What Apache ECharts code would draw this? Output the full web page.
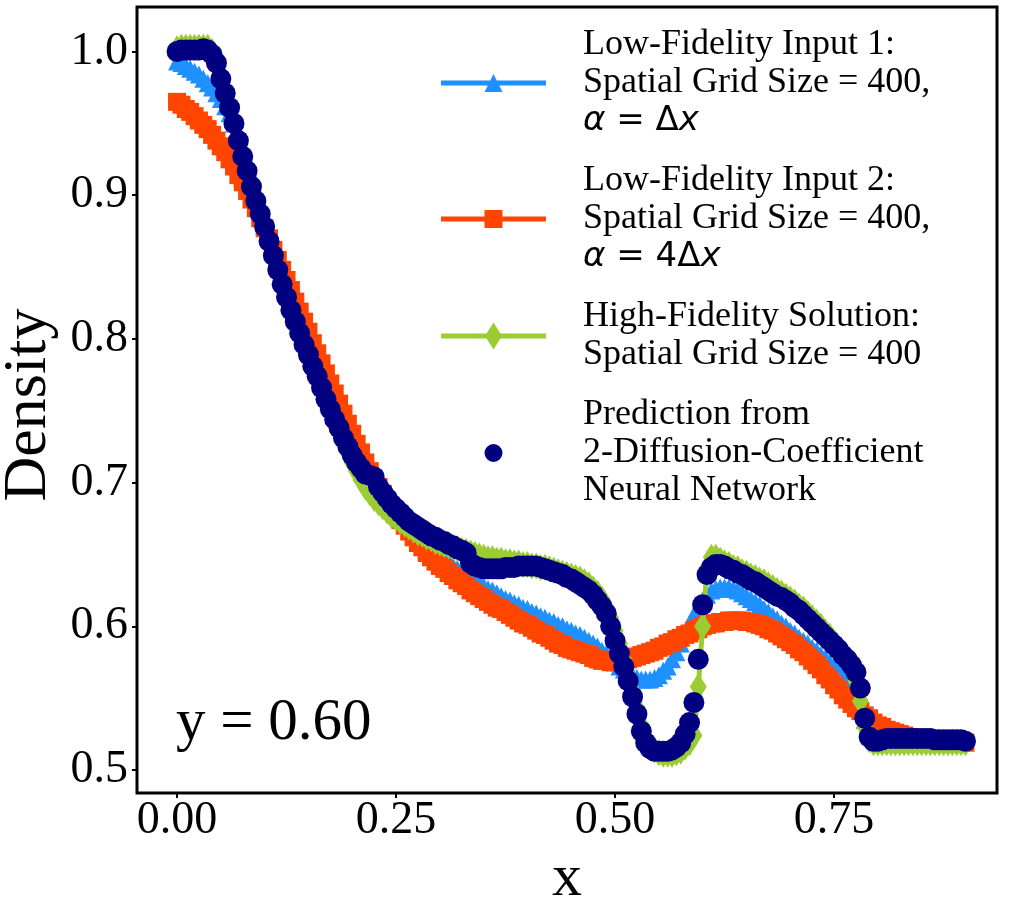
<!DOCTYPE html>
<html>
<head>
<meta charset="utf-8">
<script src="https://cdn.jsdelivr.net/npm/echarts@6/dist/echarts.min.js"></script>
<style>
  html, body { margin: 0; padding: 0; background: #fff; }
  #chart { width: 1017px; height: 913px; }
</style>
</head>
<body>
<div id="chart"></div>
<script>
// x grid: uniform step 0.005 on [0, 0.9]
const xGrid = Array.from({length: 181}, (_, i) => +(i * 0.005).toFixed(3));

// Low-Fidelity Input 1 (alpha = dx)
const lowFid1 = [
  0.993,0.992,0.990,0.988,0.986,0.984,0.981,0.978,0.975,0.971,
  0.967,0.962,0.957,0.950,0.943,0.934,0.924,0.914,0.904,0.894,
  0.884,0.874,0.864,0.855,0.846,0.837,0.829,0.821,0.813,0.805,
  0.798,0.790,0.783,0.775,0.768,0.760,0.753,0.746,0.739,0.731,
  0.723,0.717,0.711,0.706,0.701,0.697,0.693,0.689,0.686,0.683,
  0.680,0.677,0.674,0.671,0.668,0.665,0.663,0.660,0.656,0.653,
  0.650,0.647,0.645,0.642,0.640,0.638,0.636,0.634,0.632,0.630,
  0.628,0.626,0.625,0.623,0.621,0.619,0.618,0.616,0.615,0.613,
  0.612,0.610,0.609,0.607,0.606,0.604,0.603,0.601,0.600,0.598,
  0.597,0.595,0.594,0.592,0.590,0.588,0.586,0.583,0.581,0.578,
  0.575,0.572,0.570,0.568,0.566,0.564,0.563,0.563,0.563,0.564,
  0.566,0.569,0.572,0.577,0.582,0.588,0.595,0.602,0.608,0.613,
  0.618,0.622,0.625,0.626,0.627,0.627,0.627,0.626,0.625,0.623,
  0.621,0.619,0.617,0.615,0.612,0.610,0.607,0.605,0.602,0.600,
  0.597,0.595,0.592,0.590,0.588,0.585,0.583,0.580,0.578,0.575,
  0.572,0.569,0.566,0.562,0.557,0.550,0.543,0.535,0.528,0.524,
  0.522,0.521,0.521,0.520,0.520,0.520,0.520,0.520,0.520,0.520,
  0.520,0.520,0.520,0.520,0.520,0.520,0.520,0.520,0.520,0.520,
  0.520
];

// Low-Fidelity Input 2 (alpha = 4dx)
const lowFid2 = [
  0.965,0.963,0.960,0.958,0.955,0.952,0.949,0.946,0.942,0.938,
  0.934,0.930,0.925,0.920,0.914,0.909,0.903,0.897,0.891,0.884,
  0.877,0.870,0.862,0.855,0.848,0.841,0.834,0.826,0.819,0.812,
  0.805,0.797,0.790,0.783,0.776,0.769,0.762,0.755,0.748,0.741,
  0.734,0.727,0.721,0.714,0.708,0.702,0.697,0.692,0.687,0.682,
  0.678,0.674,0.670,0.666,0.662,0.658,0.655,0.651,0.648,0.645,
  0.642,0.640,0.637,0.635,0.632,0.630,0.628,0.625,0.623,0.621,
  0.619,0.617,0.615,0.613,0.612,0.610,0.608,0.606,0.604,0.602,
  0.601,0.599,0.597,0.595,0.594,0.592,0.590,0.588,0.587,0.585,
  0.584,0.583,0.582,0.581,0.580,0.578,0.577,0.576,0.576,0.575,
  0.575,0.575,0.576,0.577,0.578,0.579,0.580,0.581,0.582,0.583,
  0.585,0.586,0.588,0.589,0.591,0.592,0.594,0.595,0.597,0.598,
  0.600,0.601,0.602,0.602,0.603,0.603,0.604,0.604,0.604,0.604,
  0.603,0.603,0.602,0.601,0.600,0.598,0.597,0.595,0.593,0.591,
  0.589,0.587,0.584,0.582,0.579,0.576,0.573,0.570,0.566,0.563,
  0.559,0.556,0.552,0.549,0.546,0.543,0.541,0.538,0.536,0.533,
  0.531,0.530,0.528,0.527,0.526,0.525,0.524,0.523,0.522,0.521,
  0.521,0.520,0.520,0.520,0.520,0.519,0.519,0.519,0.519,0.519,
  0.519
];

// High-Fidelity Solution
const highFid = [
  1.002,1.003,1.003,1.003,1.003,1.003,1.003,1.003,1.000,0.993,
  0.984,0.973,0.962,0.951,0.940,0.929,0.918,0.907,0.897,0.887,
  0.878,0.868,0.859,0.849,0.840,0.831,0.823,0.814,0.806,0.798,
  0.790,0.782,0.774,0.766,0.759,0.751,0.744,0.736,0.729,0.721,
  0.714,0.708,0.702,0.697,0.693,0.689,0.686,0.683,0.680,0.677,
  0.675,0.673,0.671,0.669,0.667,0.665,0.664,0.662,0.661,0.659,
  0.658,0.657,0.656,0.655,0.654,0.653,0.652,0.651,0.650,0.649,
  0.648,0.647,0.647,0.646,0.646,0.645,0.645,0.644,0.644,0.643,
  0.643,0.642,0.642,0.641,0.641,0.640,0.639,0.638,0.637,0.636,
  0.635,0.634,0.633,0.631,0.629,0.626,0.623,0.619,0.613,0.606,
  0.597,0.588,0.577,0.566,0.555,0.543,0.531,0.522,0.517,0.514,
  0.512,0.511,0.511,0.511,0.512,0.513,0.516,0.519,0.524,0.558,
  0.600,0.640,0.648,0.648,0.646,0.644,0.643,0.641,0.640,0.638,
  0.637,0.635,0.634,0.632,0.631,0.629,0.627,0.625,0.623,0.621,
  0.619,0.617,0.614,0.612,0.609,0.606,0.603,0.600,0.596,0.593,
  0.589,0.585,0.580,0.575,0.570,0.562,0.548,0.530,0.521,0.519,
  0.519,0.519,0.519,0.519,0.519,0.519,0.519,0.519,0.519,0.519,
  0.519,0.519,0.519,0.519,0.519,0.519,0.519,0.519,0.519,0.519,
  0.519
];

// Prediction from the 2-diffusion-coefficient neural network
const prediction = [
  1.000,1.001,1.001,1.001,1.001,1.001,1.002,1.001,0.998,0.992,
  0.981,0.971,0.961,0.950,0.938,0.927,0.917,0.906,0.896,0.887,
  0.878,0.868,0.858,0.848,0.838,0.829,0.820,0.812,0.804,0.796,
  0.789,0.781,0.774,0.766,0.758,0.751,0.744,0.738,0.731,0.725,
  0.719,0.714,0.710,0.706,0.705,0.704,0.697,0.693,0.689,0.685,
  0.682,0.679,0.676,0.673,0.671,0.669,0.667,0.665,0.663,0.662,
  0.660,0.659,0.657,0.656,0.654,0.653,0.651,0.644,0.642,0.641,
  0.640,0.640,0.640,0.640,0.640,0.641,0.641,0.641,0.642,0.642,
  0.642,0.642,0.642,0.641,0.640,0.639,0.638,0.637,0.636,0.634,
  0.633,0.631,0.629,0.627,0.625,0.622,0.618,0.614,0.609,0.600,
  0.590,0.581,0.572,0.562,0.551,0.539,0.527,0.519,0.515,0.513,
  0.513,0.513,0.513,0.514,0.516,0.519,0.525,0.533,0.547,0.577,
  0.615,0.636,0.641,0.643,0.643,0.642,0.640,0.639,0.637,0.636,
  0.634,0.632,0.631,0.629,0.627,0.625,0.623,0.621,0.620,0.618,
  0.616,0.613,0.611,0.608,0.605,0.602,0.599,0.596,0.593,0.590,
  0.587,0.584,0.580,0.577,0.573,0.568,0.557,0.536,0.523,0.520,
  0.520,0.521,0.522,0.522,0.522,0.522,0.522,0.522,0.522,0.522,
  0.522,0.522,0.522,0.521,0.521,0.521,0.521,0.521,0.521,0.521,
  0.520
];

const xTicks = [0, 0.25, 0.5, 0.75];
const yTicks = [0.5, 0.6, 0.7, 0.8, 0.9, 1.0];

const SERIF = 'Liberation Serif';
const pair = ys => ys.map((y, i) => [xGrid[i], y]);

// legend icons: handle line + marker at true pixel size
const iconTri = 'path://M0,6.5H105V11.5H0Z M52.5,0L61.5,18L43.5,18Z';
const iconSq = 'path://M0,6.5H105V11.5H0Z M43.5,0H61.5V18H43.5Z';
const iconDia = 'path://M0,11H105V16H0Z M52.5,0L61,13.5L52.5,27L44,13.5Z';
const iconDot = 'path://M0,8.99h0.02v0.02h-0.02Z M104.98,8.99h0.02v0.02h-0.02Z M61.5,9A9,9 0 1 1 43.5,9A9,9 0 1 1 61.5,9Z';

const legendText = {
  'Low-Fidelity Input 1': '{t|Low-Fidelity Input 1:}\n{t|Spatial Grid Size = 400,}\n{mi|α}{m| = Δ}{mi|x}',
  'Low-Fidelity Input 2': '{t|Low-Fidelity Input 2:}\n{t|Spatial Grid Size = 400,}\n{mi|α}{m| = 4Δ}{mi|x}',
  'High-Fidelity Solution': '{t|High-Fidelity Solution:}\n{t|Spatial Grid Size = 400}',
  'Prediction': '{t|Prediction from}\n{t|2-Diffusion-Coefficient}\n{t|Neural Network}'
};

const chart = echarts.init(document.getElementById('chart'), null, {renderer: 'canvas'});

chart.setOption({
  animation: false,
  backgroundColor: '#fff',
  grid: {
    left: 137, right: 20, top: 7, bottom: 120,
    containLabel: false, outerBoundsMode: 'none',
    show: true, borderColor: '#000', borderWidth: 3, backgroundColor: 'transparent'
  },
  xAxis: {
    type: 'value',
    min: -0.0457, max: 0.936,
    name: 'x',
    nameLocation: 'middle',
    nameGap: 50,
    nameTextStyle: {fontFamily: SERIF, fontSize: 60, color: '#000'},
    axisLine: {show: false, onZero: false},
    splitLine: {show: false},
    axisTick: {show: true, customValues: xTicks, length: 5, inside: false,
               lineStyle: {color: '#000', width: 2}},
    axisLabel: {customValues: xTicks, formatter: v => v.toFixed(2), margin: 5,
                fontFamily: SERIF, fontSize: 46, color: '#000'}
  },
  yAxis: {
    type: 'value',
    min: 0.484, max: 1.031,
    name: 'Density',
    nameLocation: 'middle',
    nameGap: 77,
    nameTextStyle: {fontFamily: SERIF, fontSize: 62, color: '#000', padding: [0, 10, 0, 0]},
    axisLine: {show: false, onZero: false},
    splitLine: {show: false},
    axisTick: {show: true, customValues: yTicks, length: 5, inside: false,
               lineStyle: {color: '#000', width: 2}},
    axisLabel: {customValues: yTicks, formatter: v => v.toFixed(1), margin: 9,
                fontFamily: SERIF, fontSize: 46, color: '#000'}
  },
  legend: {
    orient: 'vertical',
    left: 441, top: 26,
    padding: 0,
    itemGap: 22,
    itemWidth: 105, itemHeight: 27,
    selectedMode: false,
    data: [
      {name: 'Low-Fidelity Input 1', icon: iconTri},
      {name: 'Low-Fidelity Input 2', icon: iconSq},
      {name: 'High-Fidelity Solution', icon: iconDia},
      {name: 'Prediction', icon: iconDot}
    ],
    formatter: name => legendText[name],
    textStyle: {
      fontFamily: SERIF, fontSize: 36, lineHeight: 38, color: '#000',
      padding: [0, 0, 0, 32],
      rich: {
        t: {fontFamily: SERIF, fontSize: 36, lineHeight: 38, color: '#000'},
        m: {fontFamily: 'DejaVu Sans', fontSize: 34, lineHeight: 38, color: '#000'},
        mi: {fontFamily: 'DejaVu Sans', fontSize: 34, fontStyle: 'italic', lineHeight: 38, color: '#000'}
      }
    }
  },
  graphic: [{
    type: 'text',
    left: 176, top: 694,
    style: {text: 'y = 0.60', fontFamily: SERIF, fontSize: 59, fill: '#000'}
  }],
  series: [
    {
      name: 'Low-Fidelity Input 1', type: 'line', z: 2,
      data: pair(lowFid1),
      color: '#1E90FF',
      symbol: 'triangle', symbolSize: 18, showSymbol: true,
      lineStyle: {width: 5, color: '#1E90FF'},
      itemStyle: {color: '#1E90FF', borderWidth: 0},
      emphasis: {disabled: true}
    },
    {
      name: 'Low-Fidelity Input 2', type: 'line', z: 3,
      data: pair(lowFid2),
      color: '#FF4500',
      symbol: 'rect', symbolSize: 18, showSymbol: true,
      lineStyle: {width: 5, color: '#FF4500'},
      itemStyle: {color: '#FF4500', borderWidth: 0},
      emphasis: {disabled: true}
    },
    {
      name: 'High-Fidelity Solution', type: 'line', z: 4,
      data: pair(highFid),
      color: '#9ACD32',
      symbol: 'diamond', symbolSize: [17, 27], showSymbol: true,
      lineStyle: {width: 5, color: '#9ACD32'},
      itemStyle: {color: '#9ACD32', borderWidth: 0},
      emphasis: {disabled: true}
    },
    {
      name: 'Prediction', type: 'scatter', z: 5,
      data: pair(prediction),
      color: '#000080',
      symbol: 'circle', symbolSize: 21,
      itemStyle: {color: '#000080', borderWidth: 0, opacity: 1},
      emphasis: {disabled: true}
    }
  ]
});
</script>
</body>
</html>
